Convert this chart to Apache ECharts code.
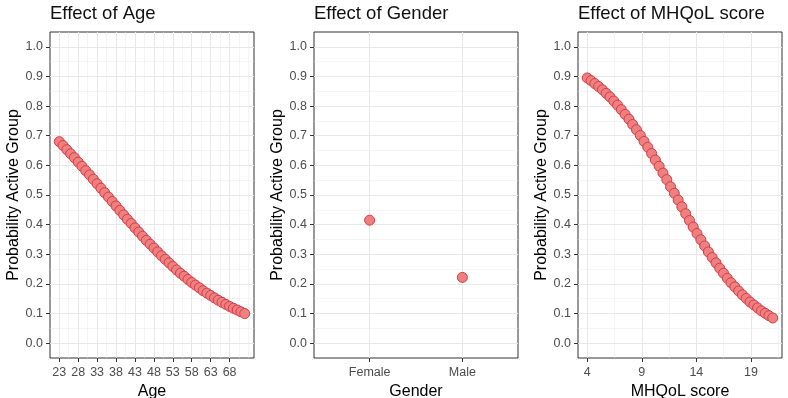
<!DOCTYPE html>
<html>
<head>
<meta charset="utf-8">
<script src="https://cdn.jsdelivr.net/npm/echarts@6/dist/echarts.min.js"></script>
<style>
  body { margin: 0; background: #fff; }
  #chart { width: 788px; height: 398px; }
</style>
</head>
<body>
<div id="chart"></div>
<script>
// --- data ---
const ages = [23,24,25,26,27,28,29,30,31,32,33,34,35,36,37,38,39,40,41,42,43,44,45,46,47,
  48,49,50,51,52,53,54,55,56,57,58,59,60,61,62,63,64,65,66,67,68,69,70,71,72];
const ageProb = [0.680,0.667,0.653,0.639,0.626,0.611,0.597,0.582,0.568,0.553,0.538,0.523,0.508,
  0.493,0.478,0.463,0.448,0.433,0.418,0.404,0.389,0.375,0.361,0.347,0.334,0.321,0.308,0.295,
  0.283,0.271,0.259,0.247,0.236,0.226,0.215,0.205,0.196,0.187,0.177,0.169,0.161,0.153,0.145,
  0.138,0.131,0.124,0.118,0.112,0.106,0.100];

const genderCategories = ['Female', 'Male'];
const genderProb = [0.415, 0.222];

const mhqolScores = [4.00,4.35,4.69,5.04,5.39,5.73,6.08,6.43,6.78,7.12,7.47,7.82,8.16,8.51,8.86,
  9.20,9.55,9.90,10.24,10.59,10.94,11.29,11.63,11.98,12.33,12.67,13.02,13.37,13.71,14.06,14.41,
  14.76,15.10,15.45,15.80,16.14,16.49,16.84,17.18,17.53,17.88,18.22,18.57,18.92,19.27,19.61,
  19.96,20.31,20.65,21.00];
const mhqolProb = [0.895,0.886,0.876,0.866,0.855,0.843,0.831,0.817,0.803,0.788,0.772,0.756,0.738,
  0.720,0.701,0.681,0.661,0.640,0.618,0.597,0.574,0.552,0.528,0.506,0.483,0.460,0.437,0.414,
  0.392,0.370,0.349,0.328,0.308,0.289,0.271,0.253,0.236,0.219,0.204,0.190,0.176,0.163,0.151,
  0.139,0.129,0.119,0.109,0.101,0.093,0.085];

// tick / grid positions
const yTicks = [0,0.1,0.2,0.3,0.4,0.5,0.6,0.7,0.8,0.9,1.0];
const yMinor = [0.05,0.15,0.25,0.35,0.45,0.55,0.65,0.75,0.85,0.95];
const ageTicks = [23,28,33,38,43,48,53,58,63,68];
const ageMinor = [25.5,30.5,35.5,40.5,45.5,50.5,55.5,60.5,65.5,70.5,73];
const genderTicks = [1, 2];
const mhqolTicks = [4,9,14,19];
const mhqolMinor = [6.5,11.5,16.5,21.5];

const titles = ['Effect of Age', 'Effect of Gender', 'Effect of MHQoL score'];
const xNames = ['Age', 'Gender', 'MHQoL score'];
const yName = 'Probability Active Group';

// --- layout ---
const FONT = 'Liberation Sans, Arial, sans-serif';
const panelLeft = [50, 314, 578];
const PW = 204, PT = 32, PH = 326;
const gridCol = '#e8e8e8';

const chart = echarts.init(document.getElementById('chart'));

const grids = panelLeft.map(l => ({
  left: l, top: PT, width: PW, height: PH, outerBoundsMode: 'none', containLabel: false,
  show: true, borderColor: '#333', borderWidth: 1, backgroundColor: 'transparent'
}));

function majorX(i, min, max, ticks, fmt) {
  return {
    type: 'value', gridIndex: i, min, max,
    name: xNames[i], nameLocation: 'middle', nameGap: 20,
    nameTextStyle: { fontFamily: FONT, fontSize: 16, color: '#000' },
    axisLine: { show: false, onZero: false },
    axisTick: { show: true, length: 4, customValues: ticks, lineStyle: { color: '#333' } },
    axisLabel: { customValues: ticks, margin: 8, fontFamily: FONT, fontSize: 12.5, color: '#4d4d4d',
      formatter: fmt || (v => String(v)) },
    splitLine: { show: true, lineStyle: { color: gridCol, width: 1 } }
  };
}
function minorX(i, min, max, vals) {
  return {
    type: 'value', gridIndex: i, min, max,
    axisLine: { show: false, onZero: false },
    axisTick: { show: false, customValues: vals },
    axisLabel: { show: false, customValues: vals },
    splitLine: { show: vals.length > 0, lineStyle: { color: gridCol, width: 0.5 } }
  };
}
function majorY(i) {
  return {
    type: 'value', gridIndex: i, min: -0.05, max: 1.05,
    name: yName, nameLocation: 'middle', nameGap: 28, nameRotate: 90,
    nameTextStyle: { fontFamily: FONT, fontSize: 16, color: '#000' },
    axisLine: { show: false, onZero: false },
    axisTick: { show: true, length: 4, customValues: yTicks, lineStyle: { color: '#333' } },
    axisLabel: { customValues: yTicks, margin: 7, fontFamily: FONT, fontSize: 12.5, color: '#4d4d4d',
      formatter: v => v.toFixed(1) },
    splitLine: { show: true, lineStyle: { color: gridCol, width: 1 } }
  };
}
function minorY(i) {
  return {
    type: 'value', gridIndex: i, min: -0.05, max: 1.05,
    axisLine: { show: false, onZero: false },
    axisTick: { show: false, customValues: yMinor },
    axisLabel: { show: false, customValues: yMinor },
    splitLine: { show: true, lineStyle: { color: gridCol, width: 0.5 } }
  };
}

const xAxis = [
  majorX(0, 20.55, 74.45, ageTicks),
  majorX(1, 0.4, 2.6, genderTicks, v => genderCategories[Math.round(v) - 1]),
  majorX(2, 3.15, 21.85, mhqolTicks),
  minorX(0, 20.55, 74.45, ageMinor),
  minorX(1, 0.4, 2.6, []),
  minorX(2, 3.15, 21.85, mhqolMinor)
];
const yAxis = [majorY(0), majorY(1), majorY(2), minorY(0), minorY(1), minorY(2)];

const pointStyle = {
  type: 'scatter', symbol: 'circle', symbolSize: 10,
  itemStyle: { color: '#f08080', borderColor: '#d03e48', borderWidth: 1, opacity: 1 },
  emphasis: { disabled: true }, z: 5
};

const option = {
  animation: false,
  backgroundColor: '#fff',
  title: titles.map((t, i) => ({
    text: t, left: panelLeft[i], top: 4, padding: 0,
    textStyle: { fontFamily: FONT, fontSize: 18.5, fontWeight: 'normal', color: '#111' }
  })),
  grid: grids,
  xAxis, yAxis,
  series: [
    Object.assign({}, pointStyle, { xAxisIndex: 0, yAxisIndex: 0,
      data: ages.map((a, k) => [a, ageProb[k]]) }),
    Object.assign({}, pointStyle, { xAxisIndex: 1, yAxisIndex: 1,
      data: genderCategories.map((g, k) => [k + 1, genderProb[k]]) }),
    Object.assign({}, pointStyle, { xAxisIndex: 2, yAxisIndex: 2,
      data: mhqolScores.map((s, k) => [s, mhqolProb[k]]) })
  ]
};
chart.setOption(option);
</script>
</body>
</html>
